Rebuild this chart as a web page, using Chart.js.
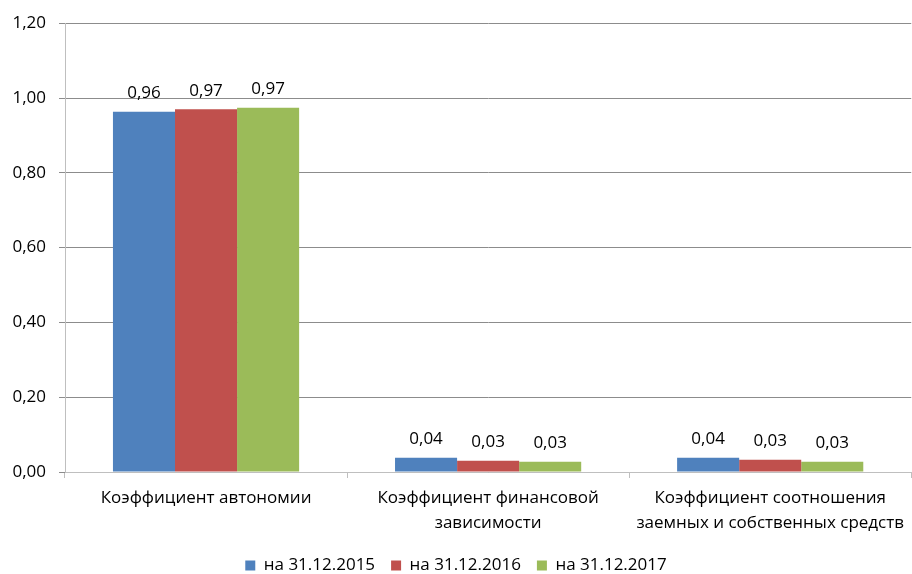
<!DOCTYPE html>
<html>
<head>
<meta charset="utf-8">
<script src="https://cdn.jsdelivr.net/npm/chart.js@4"></script>
<style>
  html, body { margin: 0; padding: 0; background: #fff; }
  #wrap { width: 912px; height: 574px; }
</style>
</head>
<body>
<div id="wrap"><canvas id="ratios"></canvas></div>
<script>
let categories = [
    ['Коэффициент автономии'],
    ['Коэффициент финансовой', 'зависимости'],
    ['Коэффициент соотношения', 'заемных и собственных средств']
];
let seriesNames = ['на 31.12.2015', 'на 31.12.2016', 'на 31.12.2017'];
let values2015 = [0.963, 0.038, 0.038];
let values2016 = [0.970, 0.030, 0.033];
let values2017 = [0.974, 0.0275, 0.0275];
let barColors = ['#4F81BD', '#C0504D', '#9BBB59'];

const fontName = "'Open Sans', 'Liberation Sans', sans-serif";
const fontSize = 17;

function fmt(v) {
    return v.toFixed(2).replace('.', ',');
}

// draws the value above every bar
const valueLabels = {
    id: 'valueLabels',
    afterDatasetsDraw(chart) {
        let c = chart.ctx;
        c.save();
        c.font = fontSize + 'px ' + fontName;
        c.fillStyle = '#000';
        c.textAlign = 'center';
        c.textBaseline = 'bottom';
        chart.data.datasets.forEach((ds, i) => {
            chart.getDatasetMeta(i).data.forEach((bar, j) => {
                c.fillText(fmt(ds.data[j]), bar.x, bar.y - 10);
            });
        });
        c.restore();
    }
};

let ctx = document.getElementById('ratios').getContext('2d');

new Chart(ctx, {
    type: 'bar',
    data: {
        labels: categories,
        datasets: [
            { label: seriesNames[0], data: values2015, backgroundColor: barColors[0] },
            { label: seriesNames[1], data: values2016, backgroundColor: barColors[1] },
            { label: seriesNames[2], data: values2017, backgroundColor: barColors[2] }
        ]
    },
    options: {
        responsive: true,
        maintainAspectRatio: false,
        animation: false,
        layout: { padding: { top: 22, right: 0, left: 0, bottom: -10 } },
        datasets: {
            bar: { categoryPercentage: 0.66, barPercentage: 1.0, borderWidth: 0 }
        },
        plugins: {
            legend: {
                position: 'bottom',
                labels: {
                    boxWidth: 10,
                    boxHeight: 10,
                    color: '#000',
                    padding: 16,
                    font: { family: fontName, size: fontSize }
                }
            },
            tooltip: { enabled: false }
        },
        scales: {
            x: {
                grid: {
                    offset: true,
                    drawOnChartArea: false,
                    tickLength: 6,
                    color: '#BFBFBF'
                },
                border: { color: '#BFBFBF' },
                ticks: {
                    color: '#000',
                    maxRotation: 0,
                    padding: 8,
                    font: { family: fontName, size: fontSize, lineHeight: 1.47 }
                },
                afterFit(s) { s.height = 69; }
            },
            y: {
                min: 0,
                max: 1.2,
                grid: {
                    color: '#8C8C8C',
                    tickLength: 6
                },
                border: { color: '#BFBFBF' },
                ticks: {
                    stepSize: 0.2,
                    color: '#000',
                    padding: 13,
                    font: { family: fontName, size: fontSize },
                    callback: v => fmt(v)
                },
                afterFit(s) { s.width = 65; }
            }
        }
    },
    plugins: [valueLabels]
});
</script>
</body>
</html>
